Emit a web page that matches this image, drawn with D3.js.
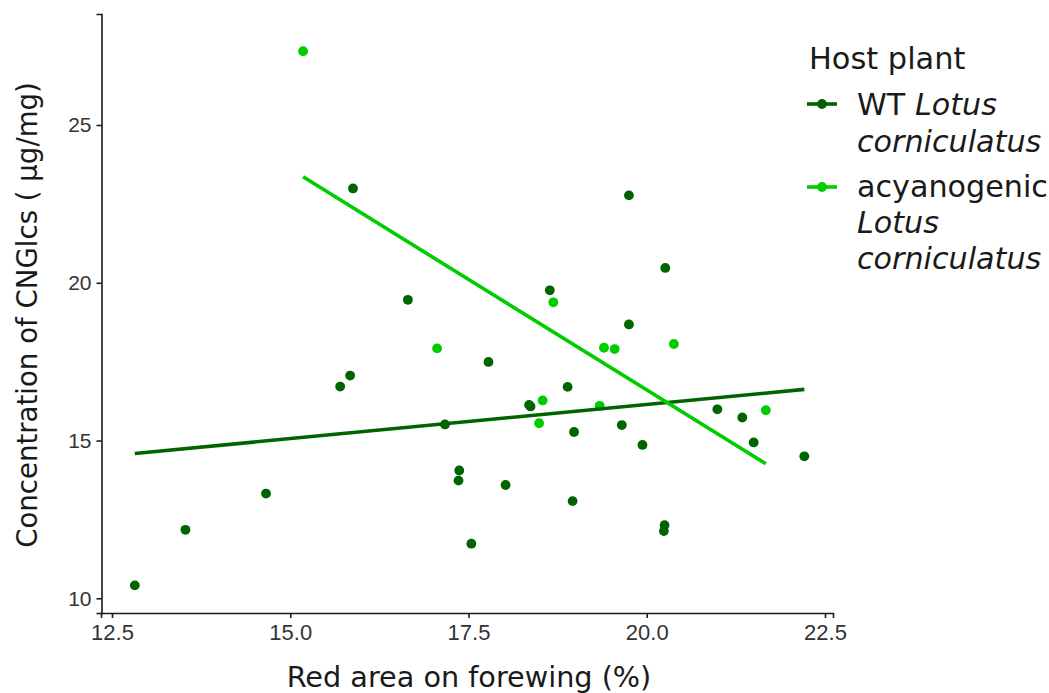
<!DOCTYPE html>
<html>
<head>
<meta charset="utf-8">
<script src="https://cdn.jsdelivr.net/npm/d3@7/dist/d3.min.js"></script>
<style>
  body { margin: 0; background: #fff; }
  svg { display: block; }
</style>
</head>
<body>
<svg id="chart" width="1049" height="693"></svg>
<script>
// ---- data ----
const wtX = [12.82,13.53,14.66,15.70,15.84,15.88,16.65,17.17,17.37,17.36,17.54,17.78,18.02,18.35,18.37,18.64,18.89,18.98,18.96,19.65,19.75,19.75,19.94,20.25,20.24,20.26,20.99,21.34,21.50,22.21];
const wtY = [10.41,12.17,13.32,16.71,17.06,22.99,19.46,15.51,14.05,13.73,11.73,17.49,13.59,16.13,16.08,19.76,16.70,15.27,13.08,15.49,18.68,22.77,14.86,12.32,12.13,20.47,15.99,15.73,14.94,14.50];
const acX = [15.18,17.06,18.69,19.40,19.55,20.38,18.54,19.34,18.49,21.67];
const acY = [27.34,17.92,19.38,17.94,17.90,18.06,16.27,16.10,15.55,15.96];
const xTicks = [12.5, 15.0, 17.5, 20.0, 22.5];
const yTicks = [10, 15, 20, 25];
const groupNames = ["WT", "acyanogenic"];
const legendTitle = "Host plant";
const xTitle = "Red area on forewing (%)";
const yTitle = "Concentration of CNGlcs ( µg/mg)";

const colors = { WT: "#006400", acyanogenic: "#00CD00" };

const svg = d3.select("#chart");

// scales (panel: x 101..833, y 14..613)
const x = d3.scaleLinear().domain([12.5, 22.5]).range([112, 825]);
const y = d3.scaleLinear().domain([10, 25]).range([598.3, 125]);
const xA = x.copy().domain([x.invert(101), x.invert(833)]).range([101, 833]);
const yA = y.copy().domain([y.invert(613), y.invert(14)]).range([613, 14]);

// points
const groups = [
  { name: "WT", xs: wtX, ys: wtY },
  { name: "acyanogenic", xs: acX, ys: acY }
];
groups.forEach(g => {
  svg.append("g").selectAll("circle")
    .data(g.xs.map((v, i) => [v, g.ys[i]]))
    .join("circle")
    .attr("cx", d => x(d[0]))
    .attr("cy", d => y(d[1]))
    .attr("r", 4.9)
    .attr("fill", colors[g.name]);
});

// linear fits
function lm(xs, ys) {
  const mx = d3.mean(xs), my = d3.mean(ys);
  let sxy = 0, sxx = 0;
  xs.forEach((v, i) => { sxy += (v - mx) * (ys[i] - my); sxx += (v - mx) * (v - mx); });
  const b = sxy / sxx;
  return { a: my - b * mx, b };
}
groups.forEach(g => {
  const f = lm(g.xs, g.ys);
  const [x0, x1] = d3.extent(g.xs);
  svg.append("line")
    .attr("x1", x(x0)).attr("y1", y(f.a + f.b * x0))
    .attr("x2", x(x1)).attr("y2", y(f.a + f.b * x1))
    .attr("stroke", colors[g.name])
    .attr("stroke-width", 3.6)
    .attr("stroke-linecap", "butt");
});

// axes
const xAxis = svg.append("g").attr("transform", "translate(0,613)")
  .call(d3.axisBottom(xA).tickValues(xTicks).tickFormat(d3.format(".1f")).tickSizeOuter(0).tickSize(5).tickPadding(6));
const yAxis = svg.append("g").attr("transform", "translate(101.5,0)")
  .call(d3.axisLeft(yA).tickValues(yTicks).tickFormat(d3.format("d")).tickSizeOuter(0).tickSize(5).tickPadding(5));
[xAxis, yAxis].forEach(a => {
  a.select(".domain").attr("stroke", "#1a1a1a").attr("stroke-width", 1.6);
  a.selectAll(".tick line").attr("stroke", "#1a1a1a").attr("stroke-width", 1.6);
});
xAxis.selectAll(".tick text")
  .attr("font-family", "'Liberation Sans Narrow', 'Liberation Sans', sans-serif")
  .attr("font-size", 22).attr("fill", "#333");
yAxis.selectAll(".tick text")
  .attr("font-family", "'Liberation Sans', Arial, sans-serif")
  .attr("font-size", 21).attr("fill", "#333");

// axis titles
svg.append("text")
  .attr("x", 469).attr("y", 687)
  .attr("text-anchor", "middle")
  .attr("font-family", "'DejaVu Sans', Verdana, sans-serif")
  .attr("font-size", 28.7).attr("fill", "#1a1a1a")
  .text(xTitle);
svg.append("text")
  .attr("transform", "translate(37,315) rotate(-90)")
  .attr("text-anchor", "middle")
  .attr("font-family", "'DejaVu Sans', Verdana, sans-serif")
  .attr("font-size", 27.6).attr("fill", "#1a1a1a")
  .text(yTitle);

// legend
const lg = svg.append("g").attr("font-family", "'DejaVu Sans', Verdana, sans-serif").attr("fill", "#1a1a1a");
lg.append("text").attr("x", 809).attr("y", 69).attr("font-size", 30.4).text(legendTitle);
const entries = [
  { name: "WT", keyY: 104, lines: [[["WT ", false], ["Lotus", true]], [["corniculatus", true]]], ys: [115, 152] },
  { name: "acyanogenic", keyY: 187, lines: [[["acyanogenic", false]], [["Lotus", true]], [["corniculatus", true]]], ys: [197, 233, 269] }
];
entries.forEach(e => {
  lg.append("line").attr("x1", 807).attr("x2", 837).attr("y1", e.keyY).attr("y2", e.keyY)
    .attr("stroke", colors[e.name]).attr("stroke-width", 3.6);
  lg.append("circle").attr("cx", 822).attr("cy", e.keyY).attr("r", 4.9).attr("fill", colors[e.name]);
  e.lines.forEach((ln, i) => {
    const t = lg.append("text").attr("x", 857).attr("y", e.ys[i]).attr("font-size", 30.2);
    ln.forEach(([s, it]) => t.append("tspan").attr("font-style", it ? "italic" : "normal").text(s));
  });
});
</script>
</body>
</html>
